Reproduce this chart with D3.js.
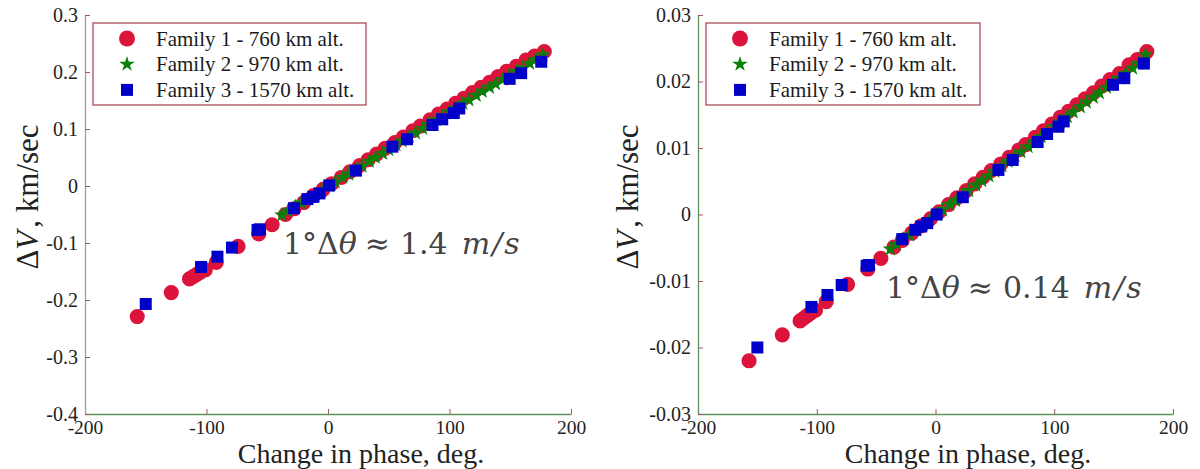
<!DOCTYPE html>
<html>
<head>
<meta charset="utf-8">
<script src="https://cdn.jsdelivr.net/npm/d3@7/dist/d3.min.js"></script>
<style>
  html, body { margin: 0; padding: 0; background: #fff; }
  svg { display: block; }
</style>
</head>
<body>
<svg id="chart" width="1200" height="469"></svg>
<script>
// Phase change (deg) shared by both panels
const phaseFamily1 = [-157, -129, -114, -111, -108, -105, -101, -92, -74, -57, -46, -35, -28, -20, -12, -4, 3, 11, 18, 26, 33, 40, 47, 55, 62, 70, 76, 84, 91, 98, 105, 112, 119, 126, 133, 140, 147, 155, 163, 170, 178];
const phaseFamily2 = [-38, -33, -27, -22, -16, -11, -5, 1, 6, 12, 17, 23, 28, 34, 39, 45, 50, 56, 61, 67, 72, 78, 83, 89, 94, 100, 105, 111, 116, 122, 127, 133, 138, 144, 149, 155, 160, 166, 171, 177];
const phaseFamily3 = [-150, -104.5, -91, -79, -58, -56, -28, -17, -12, -7, 1, 23, 53, 65, 86, 94, 103.5, 108, 149.5, 159, 175.5];

// Delta-V (km/sec), first panel
const dvFamily1A = [-0.229, -0.187, -0.163, -0.159, -0.155, -0.151, -0.147, -0.134, -0.106, -0.084, -0.068, -0.050, -0.040, -0.029, -0.017, -0.006, 0.004, 0.015, 0.025, 0.036, 0.046, 0.056, 0.066, 0.076, 0.086, 0.097, 0.105, 0.116, 0.126, 0.135, 0.145, 0.154, 0.164, 0.173, 0.182, 0.192, 0.201, 0.210, 0.221, 0.228, 0.236];
const dvFamily2A = [-0.051, -0.044, -0.036, -0.030, -0.022, -0.015, -0.008, 0.000, 0.007, 0.015, 0.021, 0.029, 0.035, 0.043, 0.050, 0.057, 0.064, 0.072, 0.079, 0.087, 0.093, 0.101, 0.108, 0.116, 0.122, 0.130, 0.137, 0.145, 0.151, 0.159, 0.166, 0.173, 0.179, 0.187, 0.194, 0.201, 0.207, 0.215, 0.222, 0.230];
const dvFamily3A = [-0.207, -0.142, -0.124, -0.108, -0.077, -0.076, -0.039, -0.023, -0.019, -0.013, 0.001, 0.027, 0.069, 0.082, 0.107, 0.117, 0.128, 0.136, 0.188, 0.198, 0.218];

// Delta-V (km/sec), second panel
const dvFamily1B = [-0.0220, -0.0181, -0.0160, -0.0156, -0.0152, -0.0148, -0.0144, -0.0131, -0.0105, -0.0082, -0.0066, -0.0049, -0.0039, -0.0028, -0.0017, -0.0006, 0.0004, 0.0015, 0.0025, 0.0036, 0.0046, 0.0056, 0.0066, 0.0076, 0.0086, 0.0097, 0.0105, 0.0116, 0.0126, 0.0136, 0.0146, 0.0155, 0.0165, 0.0174, 0.0183, 0.0193, 0.0203, 0.0212, 0.0225, 0.0233, 0.0245];
const dvFamily2B = [-0.0052, -0.0045, -0.0037, -0.0031, -0.0023, -0.0016, -0.0008, 0.0000, 0.0007, 0.0015, 0.0021, 0.0029, 0.0036, 0.0044, 0.0051, 0.0058, 0.0065, 0.0073, 0.0080, 0.0088, 0.0094, 0.0102, 0.0109, 0.0117, 0.0124, 0.0132, 0.0139, 0.0147, 0.0154, 0.0162, 0.0169, 0.0176, 0.0183, 0.0191, 0.0198, 0.0205, 0.0212, 0.0220, 0.0227, 0.0240];
const dvFamily3B = [-0.0200, -0.0139, -0.0121, -0.0106, -0.0077, -0.0076, -0.0037, -0.0023, -0.0018, -0.0013, 0.0000, 0.0026, 0.0067, 0.0082, 0.0109, 0.0121, 0.0132, 0.0140, 0.0195, 0.0205, 0.0227];

const seriesNames = ["Family 1 - 760 km alt.", "Family 2 - 970 km alt.", "Family 3 - 1570 km alt."];

const xTicks = [-200, -100, 0, 100, 200];
const xTickLabels = ["-200", "-100", "0", "100", "200"];
const yTicksA = [-0.4, -0.3, -0.2, -0.1, 0, 0.1, 0.2, 0.3];
const yTickLabelsA = ["-0.4", "-0.3", "-0.2", "-0.1", "0", "0.1", "0.2", "0.3"];
const yTicksB = [-0.03, -0.02, -0.01, 0, 0.01, 0.02, 0.03];
const yTickLabelsB = ["-0.03", "-0.02", "-0.01", "0", "0.01", "0.02", "0.03"];

const xLabel = "Change in phase, deg.";
const noteA = "1.4";
const noteB = "0.14";

const SERIF = "'Liberation Serif', 'Times New Roman', serif";
const MATH = "'DejaVu Serif', serif";

// Marker styles per family
const markerStyles = [
  { type: d3.symbolCircle, size: 180, color: "#dc143c" },
  { type: d3.symbolStar,   size: 75,  color: "#0a800a" },
  { type: d3.symbolSquare, size: 144, color: "#0000c8" }
];

const panels = [
  {
    left: 85, right: 571, top: 15, bottom: 414,
    yDomain: [-0.4, 0.3], yTicks: yTicksA, yTickLabels: yTickLabelsA,
    series: [[phaseFamily1, dvFamily1A], [phaseFamily2, dvFamily2A], [phaseFamily3, dvFamily3A]],
    yAxisColor: "#9c9c9c",
    legend: { x: 93, y: 23, w: 273, h: 82 },
    yLabelPos: [31, 197], xLabelPos: [361, 462.5],
    note: noteA, notePos: [283, 254]
  },
  {
    left: 698, right: 1173, top: 15, bottom: 414,
    yDomain: [-0.03, 0.03], yTicks: yTicksB, yTickLabels: yTickLabelsB,
    series: [[phaseFamily1, dvFamily1B], [phaseFamily2, dvFamily2B], [phaseFamily3, dvFamily3B]],
    yAxisColor: "#5f8f5f",
    legend: { x: 706, y: 23, w: 274, h: 82 },
    yLabelPos: [631, 197], xLabelPos: [968, 462.5],
    note: noteB, notePos: [886, 298]
  }
];

const svg = d3.select("#chart");
const axisGreen = "#5f945f";
const tickColor = "#9a5a64";

panels.forEach(p => {
  const x = d3.scaleLinear().domain([-200, 200]).range([p.left, p.right]);
  const y = d3.scaleLinear().domain(p.yDomain).range([p.bottom, p.top]);
  const g = svg.append("g");

  // x axis (ticks point inward)
  const xAxis = g.append("g")
    .attr("transform", `translate(0,${p.bottom})`)
    .call(d3.axisBottom(x).tickValues(xTicks)
      .tickFormat((d, i) => xTickLabels[i])
      .tickSizeInner(-5).tickSizeOuter(0).tickPadding(6));
  xAxis.select(".domain").attr("stroke", axisGreen).attr("stroke-width", 1.3);
  xAxis.selectAll(".tick line").attr("stroke", tickColor);
  xAxis.selectAll(".tick text")
    .style("font-family", SERIF).style("font-size", "19.5px").attr("fill", "#222");

  // y axis
  const yAxis = g.append("g")
    .attr("transform", `translate(${p.left},0)`)
    .call(d3.axisLeft(y).tickValues(p.yTicks)
      .tickFormat((d, i) => p.yTickLabels[i])
      .tickSizeInner(-5).tickSizeOuter(0).tickPadding(7));
  yAxis.select(".domain").attr("stroke", p.yAxisColor).attr("stroke-width", 1.3);
  yAxis.selectAll(".tick line").attr("stroke", tickColor);
  yAxis.selectAll(".tick text")
    .style("font-family", SERIF).style("font-size", "20px").attr("fill", "#222");

  // data markers: circles, then stars, then squares on top
  p.series.forEach(([phase, dv], k) => {
    const st = markerStyles[k];
    const sym = d3.symbol().type(st.type).size(st.size);
    g.append("g").selectAll("path")
      .data(phase.map((ph, i) => [ph, dv[i]]))
      .join("path")
      .attr("d", sym)
      .attr("transform", d => `translate(${x(d[0])},${y(d[1])})`)
      .attr("fill", st.color);
  });

  // legend
  const L = p.legend;
  const lg = g.append("g");
  lg.append("rect")
    .attr("x", L.x).attr("y", L.y).attr("width", L.w).attr("height", L.h)
    .attr("fill", "#fff").attr("stroke", "#a3404f").attr("stroke-width", 1.2);
  seriesNames.forEach((name, k) => {
    const st = markerStyles[k];
    const cy = L.y + 15.5 + k * 25.7;
    lg.append("path")
      .attr("d", d3.symbol().type(st.type).size(k === 0 ? 200 : st.size)())
      .attr("transform", `translate(${L.x + 34},${cy})`)
      .attr("fill", st.color);
    lg.append("text")
      .attr("x", L.x + 63).attr("y", cy + 7)
      .style("font-family", SERIF).style("font-size", "21px").attr("fill", "#1a1a1a")
      .text(name);
  });

  // axis titles
  g.append("text")
    .attr("transform", `translate(${p.xLabelPos[0]},${p.xLabelPos[1]})`)
    .attr("text-anchor", "middle")
    .style("font-family", SERIF).style("font-size", "28px").attr("fill", "#222")
    .text(xLabel);

  const yl = g.append("text")
    .attr("transform", `translate(${p.yLabelPos[0]},${p.yLabelPos[1]}) rotate(-90)`)
    .attr("text-anchor", "middle").attr("dominant-baseline", "middle")
    .style("font-family", SERIF).style("font-size", "31px").attr("fill", "#222");
  yl.append("tspan").text("Δ");
  yl.append("tspan").attr("font-style", "italic").text("V");
  yl.append("tspan").attr("dx", 3).text(", km/sec");

  // slope annotation
  const nt = g.append("text")
    .attr("x", p.notePos[0]).attr("y", p.notePos[1])
    .style("font-family", MATH).style("font-size", "30px").attr("fill", "#444");
  nt.append("tspan").text("1°Δ");
  nt.append("tspan").style("font-style", "italic").text("θ");
  nt.append("tspan").attr("dx", 8).text("≈");
  nt.append("tspan").attr("dx", 10).text(p.note);
  nt.append("tspan").attr("dx", 14).style("font-style", "italic")
    .style("letter-spacing", "2px").text("m/s");
});
</script>
</body>
</html>
